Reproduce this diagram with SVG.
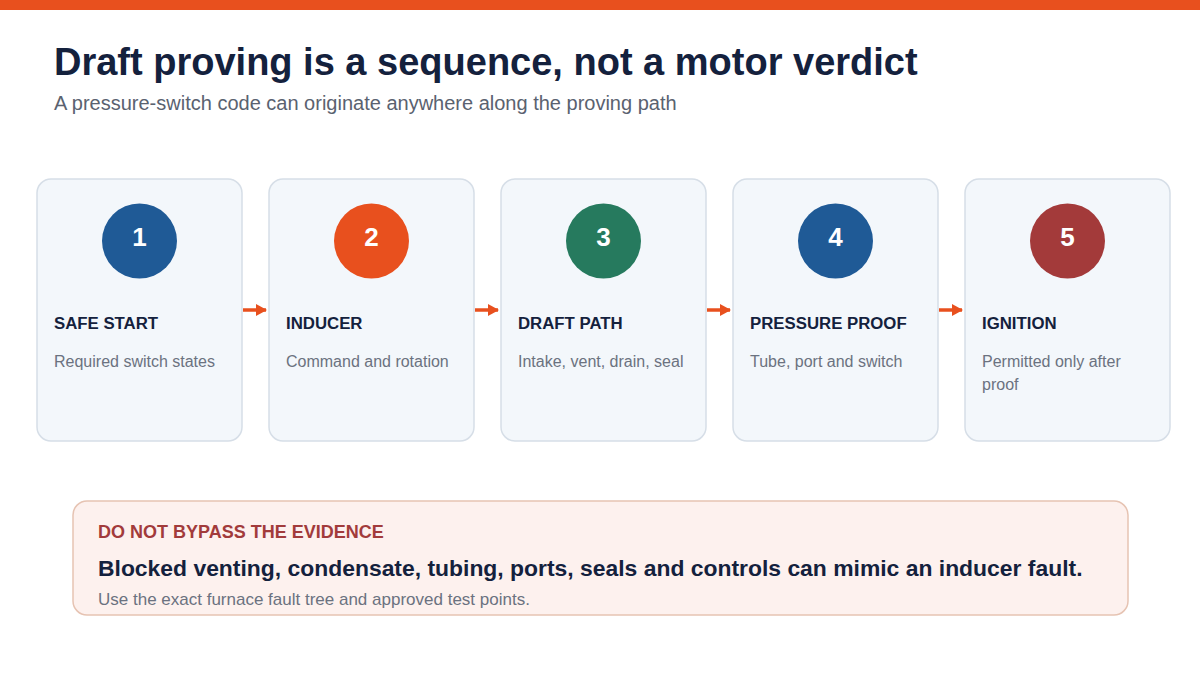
<svg xmlns="http://www.w3.org/2000/svg" width="1200" height="675" viewBox="0 0 1200 675">
<style>
text{font-family:"Liberation Sans",Arial,sans-serif}
.card{fill:#F3F7FB;stroke:#D6DEE7;stroke-width:1.5}
.num{fill:#fff;font-weight:bold;font-size:26px;text-anchor:middle}
.head{fill:#14213D;font-weight:bold;font-size:16.8px}
.desc{fill:#6B7280;font-size:16px}
.conn{stroke:#E8501E;stroke-width:3.5;fill:none}
</style>
<defs>
<marker id="ah" markerWidth="11" markerHeight="12" refX="10" refY="6" orient="auto" markerUnits="userSpaceOnUse">
<path d="M0,0 L11,6 L0,12 Z" fill="#E8501E"/>
</marker>
</defs>
<rect width="1200" height="675" fill="#fff"/>
<rect x="0" y="0" width="1200" height="10" fill="#E8501E"/>
<text x="54" y="75" font-size="38" font-weight="bold" fill="#14213D">Draft proving is a sequence, not a motor verdict</text>
<text x="54" y="110" font-size="20" fill="#5A6270">A pressure-switch code can originate anywhere along the proving path</text>

<g id="connectors">
<line class="conn" x1="243" y1="310" x2="266" y2="310" marker-end="url(#ah)"/>
<line class="conn" x1="475" y1="310" x2="498" y2="310" marker-end="url(#ah)"/>
<line class="conn" x1="707" y1="310" x2="730" y2="310" marker-end="url(#ah)"/>
<line class="conn" x1="939" y1="310" x2="962" y2="310" marker-end="url(#ah)"/>
</g>

<g id="step1">
<rect class="card" x="37" y="179" width="205" height="262" rx="14"/>
<circle cx="139.5" cy="241" r="37.5" fill="#1F5A96"/>
<text class="num" x="139.5" y="246">1</text>
<text class="head" x="54" y="329">SAFE START</text>
<text class="desc" x="54" y="367">Required switch states</text>
</g>
<g id="step2">
<rect class="card" x="269" y="179" width="205" height="262" rx="14"/>
<circle cx="371.5" cy="241" r="37.5" fill="#E8501E"/>
<text class="num" x="371.5" y="246">2</text>
<text class="head" x="286" y="329">INDUCER</text>
<text class="desc" x="286" y="367">Command and rotation</text>
</g>
<g id="step3">
<rect class="card" x="501" y="179" width="205" height="262" rx="14"/>
<circle cx="603.5" cy="241" r="37.5" fill="#267A5E"/>
<text class="num" x="603.5" y="246">3</text>
<text class="head" x="518" y="329">DRAFT PATH</text>
<text class="desc" x="518" y="367">Intake, vent, drain, seal</text>
</g>
<g id="step4">
<rect class="card" x="733" y="179" width="205" height="262" rx="14"/>
<circle cx="835.5" cy="241" r="37.5" fill="#1F5A96"/>
<text class="num" x="835.5" y="246">4</text>
<text class="head" x="750" y="329">PRESSURE PROOF</text>
<text class="desc" x="750" y="367">Tube, port and switch</text>
</g>
<g id="step5">
<rect class="card" x="965" y="179" width="205" height="262" rx="14"/>
<circle cx="1067.5" cy="241" r="37.5" fill="#A33A3A"/>
<text class="num" x="1067.5" y="246">5</text>
<text class="head" x="982" y="329">IGNITION</text>
<text class="desc" x="982" y="367">Permitted only after</text>
<text class="desc" x="982" y="390">proof</text>
</g>

<g id="warning">
<rect x="73" y="501" width="1055" height="114" rx="14" fill="#FDF1EE" stroke="#E6C3B2" stroke-width="1.5"/>
<text x="98" y="538" font-size="18" font-weight="bold" fill="#A23B3B">DO NOT BYPASS THE EVIDENCE</text>
<text x="98" y="576" font-size="22.9" font-weight="bold" fill="#14213D">Blocked venting, condensate, tubing, ports, seals and controls can mimic an inducer fault.</text>
<text x="98" y="605" font-size="17" fill="#6B7280">Use the exact furnace fault tree and approved test points.</text>
</g>
</svg>
